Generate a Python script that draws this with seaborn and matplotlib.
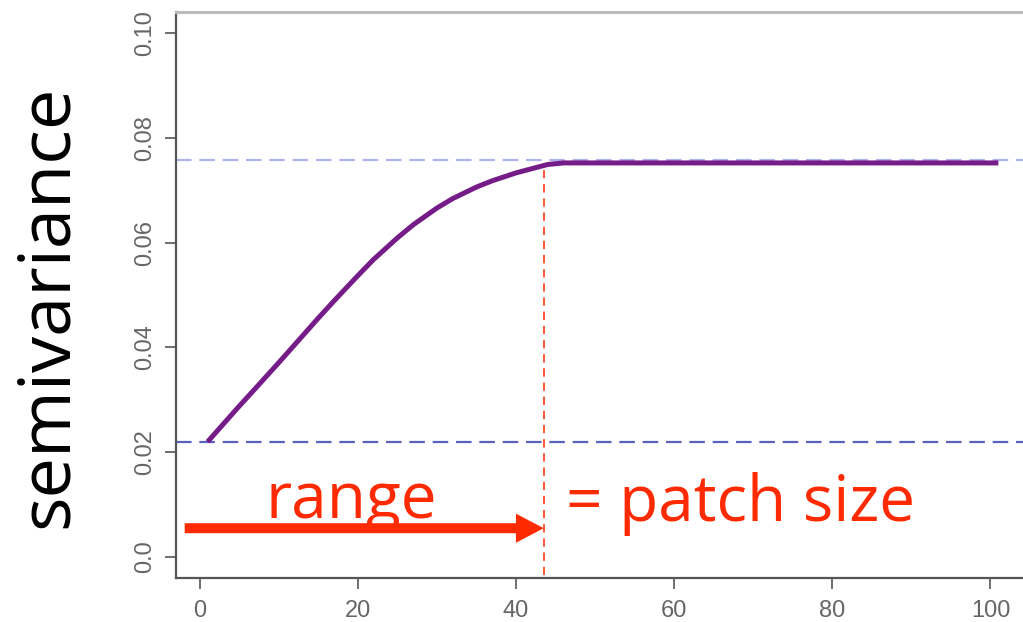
import matplotlib
matplotlib.use("Agg")
import matplotlib.pyplot as plt
import seaborn as sns
import pandas as pd

# data
lag = [1, 3, 5, 7, 10, 12, 15, 17, 20, 22, 25, 27, 30, 32, 35, 37, 40, 42, 44, 46,
       50, 60, 70, 80, 90, 101]
semivar = [0.0220, 0.0254, 0.0288, 0.0321, 0.0371, 0.0405, 0.0456, 0.0489,
           0.0537, 0.0568, 0.0609, 0.0634, 0.0666, 0.0684, 0.0706, 0.0718,
           0.0733, 0.0741, 0.0749, 0.0752, 0.0752, 0.0752, 0.0752, 0.0752,
           0.0752, 0.0752]
nugget = 0.0219
sill = 0.0757
patch_range = 43.6
x_ticks = [0, 20, 40, 60, 80, 100]
y_ticks = [0.0, 0.02, 0.04, 0.06, 0.08, 0.10]
y_tick_labels = ["0.0", "0.02", "0.04", "0.06", "0.08", "0.10"]

sns.set_theme(style="white")
plt.rcParams['font.family'] = ['Liberation Sans', 'DejaVu Sans']

fig = plt.figure(figsize=(10.23, 6.22), dpi=100)
ax = fig.add_axes([176/1023, 44/622, (1030-176)/1023, (578-12)/622])

df = pd.DataFrame({"lag": lag, "semivariance": semivar})
ax.axhline(sill, color="#aeb2f2", lw=1.6, dashes=(7, 3.5), zorder=1)
ax.axhline(nugget, color="#5a62bd", lw=1.6, dashes=(7, 3.5), zorder=1)
sns.lineplot(data=df, x="lag", y="semivariance", ax=ax, color="#761c88",
             lw=3.6, solid_capstyle="butt", solid_joinstyle="round", zorder=3)
ax.vlines(patch_range, -0.0035, 0.0752, colors="#ff3a10", lw=1.2,
          linestyles=(0, (5, 3.5)), zorder=2)

ax.annotate("", xy=(43.5, 0.0055), xytext=(-1.9, 0.0055),
            arrowprops=dict(arrowstyle="simple,head_length=2.0,head_width=2.1,tail_width=0.72",
                            mutation_scale=10, color="#ff2a00", lw=0,
                            shrinkA=0, shrinkB=0), zorder=4)
ax.text(19.2, 0.0075, "range", color="#ff2a00", fontsize=46,
        family=["Open Sans", "DejaVu Sans"], ha="center", va="baseline")
ax.text(46.3, 0.0069, "= patch size", color="#ff2a00", fontsize=46,
        family=["Open Sans", "DejaVu Sans"], ha="left", va="baseline")

ax.set_xlim(-3, 105)
ax.set_ylim(-0.004, 0.104)
ax.set_xticks(x_ticks)
ax.set_yticks(y_ticks)
ax.set_yticklabels(y_tick_labels, rotation=90, va="center")
ax.tick_params(axis="both", direction="out", length=8, width=1.2,
               color="#555555", labelcolor="#666666", labelsize=17,
               left=True, bottom=True)
ax.tick_params(axis="y", pad=6)
ax.tick_params(axis="x", pad=8)
ax.set_xlabel("")
ax.set_ylabel("")

for s in ["left", "bottom"]:
    ax.spines[s].set_color("#555555")
    ax.spines[s].set_linewidth(1.6)
ax.spines["top"].set_color("#bbbbbb")
ax.spines["top"].set_linewidth(2.2)
ax.spines["right"].set_visible(False)

fig.text(48/1023, 1 - 306/622, "semivariance", rotation=90, color="black",
         fontsize=52, family=["Open Sans", "DejaVu Sans"],
         ha="center", va="center")

fig.savefig("out.png", dpi=100)
